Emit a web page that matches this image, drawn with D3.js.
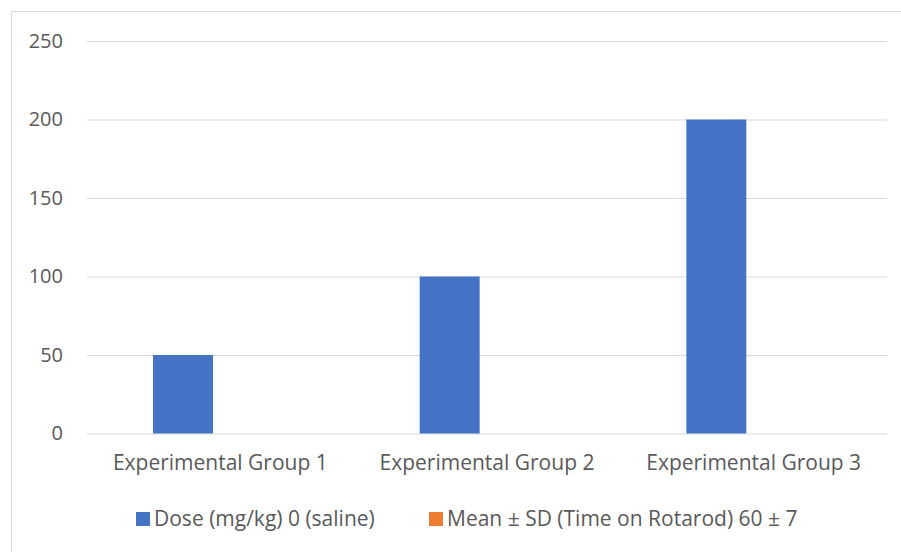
<!DOCTYPE html>
<html><head><meta charset="utf-8">
<script src="https://cdn.jsdelivr.net/npm/d3@7"></script>
<style>body{margin:0;background:#fff}svg{display:block}text{font-family:"Open Sans",sans-serif;fill:#595959}</style>
</head><body><svg id="c" width="901" height="552"></svg>
<script>
const categories = ["Experimental Group 1", "Experimental Group 2", "Experimental Group 3"];
const seriesNames = ["Dose (mg/kg) 0 (saline)", "Mean ± SD (Time on Rotarod) 60 ± 7"];
const doseValues = [50, 100, 200];
const meanValues = [0, 0, 0];
const yTicks = [0, 50, 100, 150, 200, 250];
const colors = ["#4472C4", "#ED7D31"];

(function () {
const svg = d3.select("#c");
svg.append("rect").attr("x", 11.5).attr("y", 11.5).attr("width", 900).attr("height", 560)
  .attr("fill", "#fff").attr("stroke", "#d9d9d9");

const pL = 87, pR = 887, pT = 41, pB = 433.5;
const y = d3.scaleLinear().domain([0, 250]).range([pB, pT]);
const x0 = d3.scaleBand().domain(categories).range([pL, pR]).padding(0);
const bw = x0.bandwidth();
const x1 = d3.scaleBand().domain(seriesNames).range([66, bw - 66]).paddingInner(0.197).paddingOuter(0);

const yAxis = d3.axisLeft(y).tickValues(yTicks).tickSize(-(pR - pL)).tickPadding(24);
const gy = svg.append("g").attr("transform", `translate(${pL},0)`).call(yAxis);
gy.select(".domain").remove();
gy.selectAll(".tick line").attr("stroke", "#d9d9d9").attr("stroke-width", 1);
gy.selectAll(".tick text").style("font-size", "20px").attr("fill", "#595959");

const data = categories.map((c, i) => ({cat: c, vals: [doseValues[i], meanValues[i]]}));
const groups = svg.append("g").selectAll("g").data(data).join("g")
  .attr("transform", d => `translate(${x0(d.cat)},0)`);
groups.selectAll("rect").data(d => d.vals.map((v, j) => ({s: seriesNames[j], v, j})))
  .join("rect")
  .attr("x", d => x1(d.s)).attr("width", x1.bandwidth())
  .attr("y", d => y(d.v)).attr("height", d => y(0) - y(d.v))
  .attr("fill", d => colors[d.j]);

const xAxis = d3.axisBottom(x0).tickSize(0).tickPadding(22);
const gx = svg.append("g").attr("transform", `translate(0,${pB})`).call(xAxis);
gx.select(".domain").remove();
gx.selectAll(".tick text").style("font-size", "21px").attr("fill", "#595959");

const legX = [136, 429];
const leg = svg.append("g").selectAll("g").data(seriesNames).join("g")
  .attr("transform", (d, i) => `translate(${legX[i]},519)`);
leg.append("rect").attr("x", 0).attr("y", -7).attr("width", 14).attr("height", 14)
  .attr("fill", (d, i) => colors[i]);
leg.append("text").attr("x", 18).attr("dy", "0.35em").style("font-size", "21px").text(d => d);
})();
</script></body></html>
